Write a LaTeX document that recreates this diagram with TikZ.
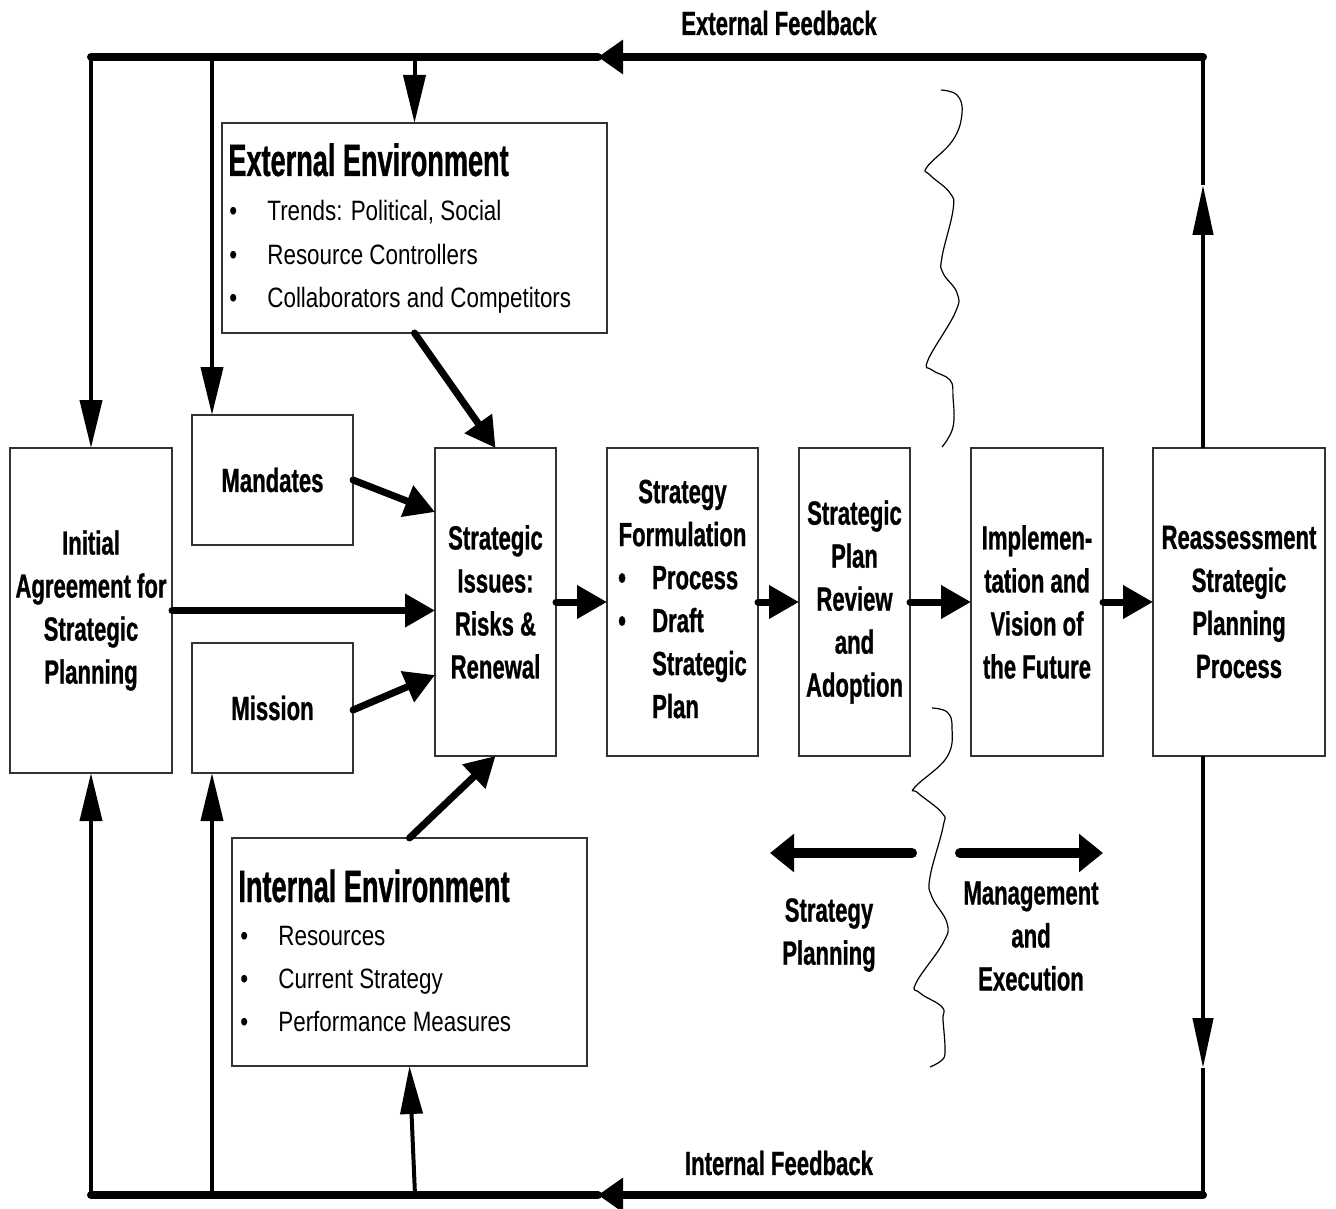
\documentclass[tikz,border=0pt]{standalone}
\usepackage{fontspec}
\usetikzlibrary{arrows.meta}
\newfontfamily\stagefam{Liberation Sans}[FakeStretch=0.66,FakeBold=0.8]
\newfontfamily\envtitlefam{Liberation Sans}[FakeStretch=0.6,FakeBold=0.8]
\newfontfamily\envitemfam{Liberation Sans}[FakeStretch=0.8]
\newcommand\stagefont{\stagefam\bfseries\fontsize{16.75}{21.5}\selectfont}
\newcommand\envtitlefont{\envtitlefam\bfseries\fontsize{22.6}{26}\selectfont}
\newcommand\envitemfont{\envitemfam\fontsize{14}{21.5}\selectfont}

\begin{document}
\begin{tikzpicture}[x=0.5pt,y=-0.5pt,
  stagebox/.style={draw=black!80,line width=0.6pt,inner sep=1pt,outer sep=0pt,align=center,font=\stagefont},
  envbox/.style={draw=black!80,line width=0.6pt,outer sep=0pt},
  envtext/.style={anchor=base west,inner sep=0pt,font=\envitemfont},
  flow/.style={line width=3.5pt,line cap=round,-{Triangle[length=15pt,width=16pt]}},
  feed/.style={line width=2pt,-{Triangle[length=24pt,width=11pt]}},
  loopline/.style={line width=4pt,line cap=round},
  loophead/.style={loopline,-{Triangle[length=12.5pt,width=16.5pt]}},
  sideline/.style={line width=2.2pt},
  sidehead/.style={sideline,-{Triangle[length=25pt,width=10pt]}},
  span/.style={line width=5pt,line cap=round,-{Triangle[length=12pt,width=18.5pt]}},
  wave/.style={line width=0.6pt}]
  \useasboundingbox (0,0) rectangle (1336,1208);

  \node[stagebox,minimum width=81pt,minimum height=162.5pt] (init) at (91,610.5)
    {Initial\\Agreement for\\Strategic\\Planning};
  \node[stagebox,minimum width=80.5pt,minimum height=65pt] (mandates) at (272.5,480) {Mandates};
  \node[stagebox,minimum width=80.5pt,minimum height=65pt] (mission) at (272.5,708) {Mission};
  \node[stagebox,minimum width=60.5pt,minimum height=154pt] (issues) at (495.5,602)
    {Strategic\\Issues:\\Risks \&\\Renewal};
  \node[stagebox,minimum width=75.5pt,minimum height=154pt] (formul) at (682.5,602)
    {\begin{tabular}{@{}p{17pt}@{}l@{}}
      \multicolumn{2}{@{}c@{}}{Strategy}\\
      \multicolumn{2}{@{}c@{}}{Formulation}\\
      •&Process\\
      •&Draft\\
      &Strategic\\
      &Plan
    \end{tabular}};
  \node[stagebox,minimum width=55.5pt,minimum height=154pt] (review) at (854.5,602)
    {Strategic\\Plan\\Review\\and\\Adoption};
  \node[stagebox,minimum width=66pt,minimum height=154pt] (implem) at (1037,602)
    {Implemen-\\tation and\\Vision of\\the Future};
  \node[stagebox,minimum width=86pt,minimum height=154pt] (reass) at (1239,602)
    {Reassessment\\Strategic\\Planning\\Process};

  \node[envbox,minimum width=192.5pt,minimum height=105pt] (extenv) at (414.5,228) {};
  \node[anchor=base west,inner sep=0pt,font=\envtitlefont] (exttitle) at (228,176) {External Environment};
  \node[envtext] (exttrends) at (229,221) {\makebox[19pt][l]{•}Trends: Political, Social};
  \node[envtext] (extres) at (229,264) {\makebox[19pt][l]{•}Resource Controllers};
  \node[envtext] (extcoll) at (229,307) {\makebox[19pt][l]{•}Collaborators and Competitors};

  \node[envbox,minimum width=177.5pt,minimum height=114pt] (intenv) at (409.5,952) {};
  \node[anchor=base west,inner sep=0pt,font=\envtitlefont] (inttitle) at (238,902) {Internal Environment};
  \node[envtext] (intres) at (240,945) {\makebox[19pt][l]{•}Resources};
  \node[envtext] (intcur) at (240,988) {\makebox[19pt][l]{•}Current Strategy};
  \node[envtext] (intperf) at (240,1031) {\makebox[19pt][l]{•}Performance Measures};

  \node[font=\stagefont] (extfb) at (779,23) {External Feedback};
  \node[font=\stagefont] (intfb) at (779,1163) {Internal Feedback};
  \node[font=\stagefont,align=center] (planlbl) at (829,935) {Strategy\\Planning};
  \node[font=\stagefont,align=center] (mgmtlbl) at (1031,936) {Management\\and\\Execution};

  % inputs to the strategic issues
  \draw[flow] (init.east) -- (init.east -| issues.west);
  \draw[flow] (mandates.east) -- ([yshift=45pt]issues.west);
  \draw[flow] ([yshift=-1pt]mission.east) -- ([yshift=-36.5pt]issues.west);
  \draw[flow] (extenv.south) -- (issues.north);
  \draw[flow] (intenv.north) -- (issues.south);
  \foreach \a/\b in {issues/formul,formul/review,review/implem,implem/reass}
    \draw[flow] (\a.east) -- (\b.west);

  % feedback loops
  \coordinate (tl) at (91,57);
  \coordinate (tr) at (1203,57);
  \coordinate (bl) at (91,1195);
  \coordinate (br) at (1203,1195);
  \coordinate (topmid) at (598,57);
  \coordinate (botmid) at (598,1195);
  \coordinate (upmark) at (1203,185);
  \coordinate (downmark) at (1203,1068);
  \coordinate (tm) at (212,57);
  \coordinate (bm) at (212,1195);
  \coordinate (bi) at (415,1195);

  \draw[loophead] (tr) -- (topmid);
  \draw[loopline] (topmid) -- (tl);
  \draw[feed] (tl) -- (init.north);
  \draw[feed] (tm) -- (tm |- mandates.north);
  \draw[feed] (extenv.north |- tl) -- (extenv.north);
  \draw[sidehead] (tr |- reass.north) -- (upmark);
  \draw[sideline] (upmark) -- (tr);

  \draw[loophead] (br) -- (botmid);
  \draw[loopline] (botmid) -- (bl);
  \draw[feed] (bl) -- (init.south);
  \draw[feed] (bm) -- (bm |- mission.south);
  \draw[feed] (bi) -- (intenv.south);
  \draw[sidehead] (tr |- reass.south) -- (downmark);
  \draw[sideline] (downmark) -- (br);

  % planning / execution divide
  \coordinate (planstart) at (912,853);
  \coordinate (planend) at (770,853);
  \coordinate (mgmtstart) at (960,853);
  \coordinate (mgmtend) at (1103,853);
  \draw[span] (planstart) -- (planend);
  \draw[span] (mgmtstart) -- (mgmtend);

  \draw[wave] plot[smooth,tension=0.7] coordinates {(941,90) (957,95) (962,113) (953,140)
    (927,167) (930,175) (950,193) (953,210) (942,257) (943,273) (957,293) (955,313)
    (928,360) (932,370) (950,380) (953,397) (953,427) (942,447)};
  \draw[wave] plot[smooth,tension=0.7] coordinates {(932,708) (947,712) (952,727) (947,757)
    (915,787) (918,793) (942,813) (943,827) (930,877) (932,897) (947,923) (943,943)
    (916,983) (920,993) (942,1007) (943,1020) (945,1050) (942,1060) (930,1067)};
\end{tikzpicture}
\end{document}
